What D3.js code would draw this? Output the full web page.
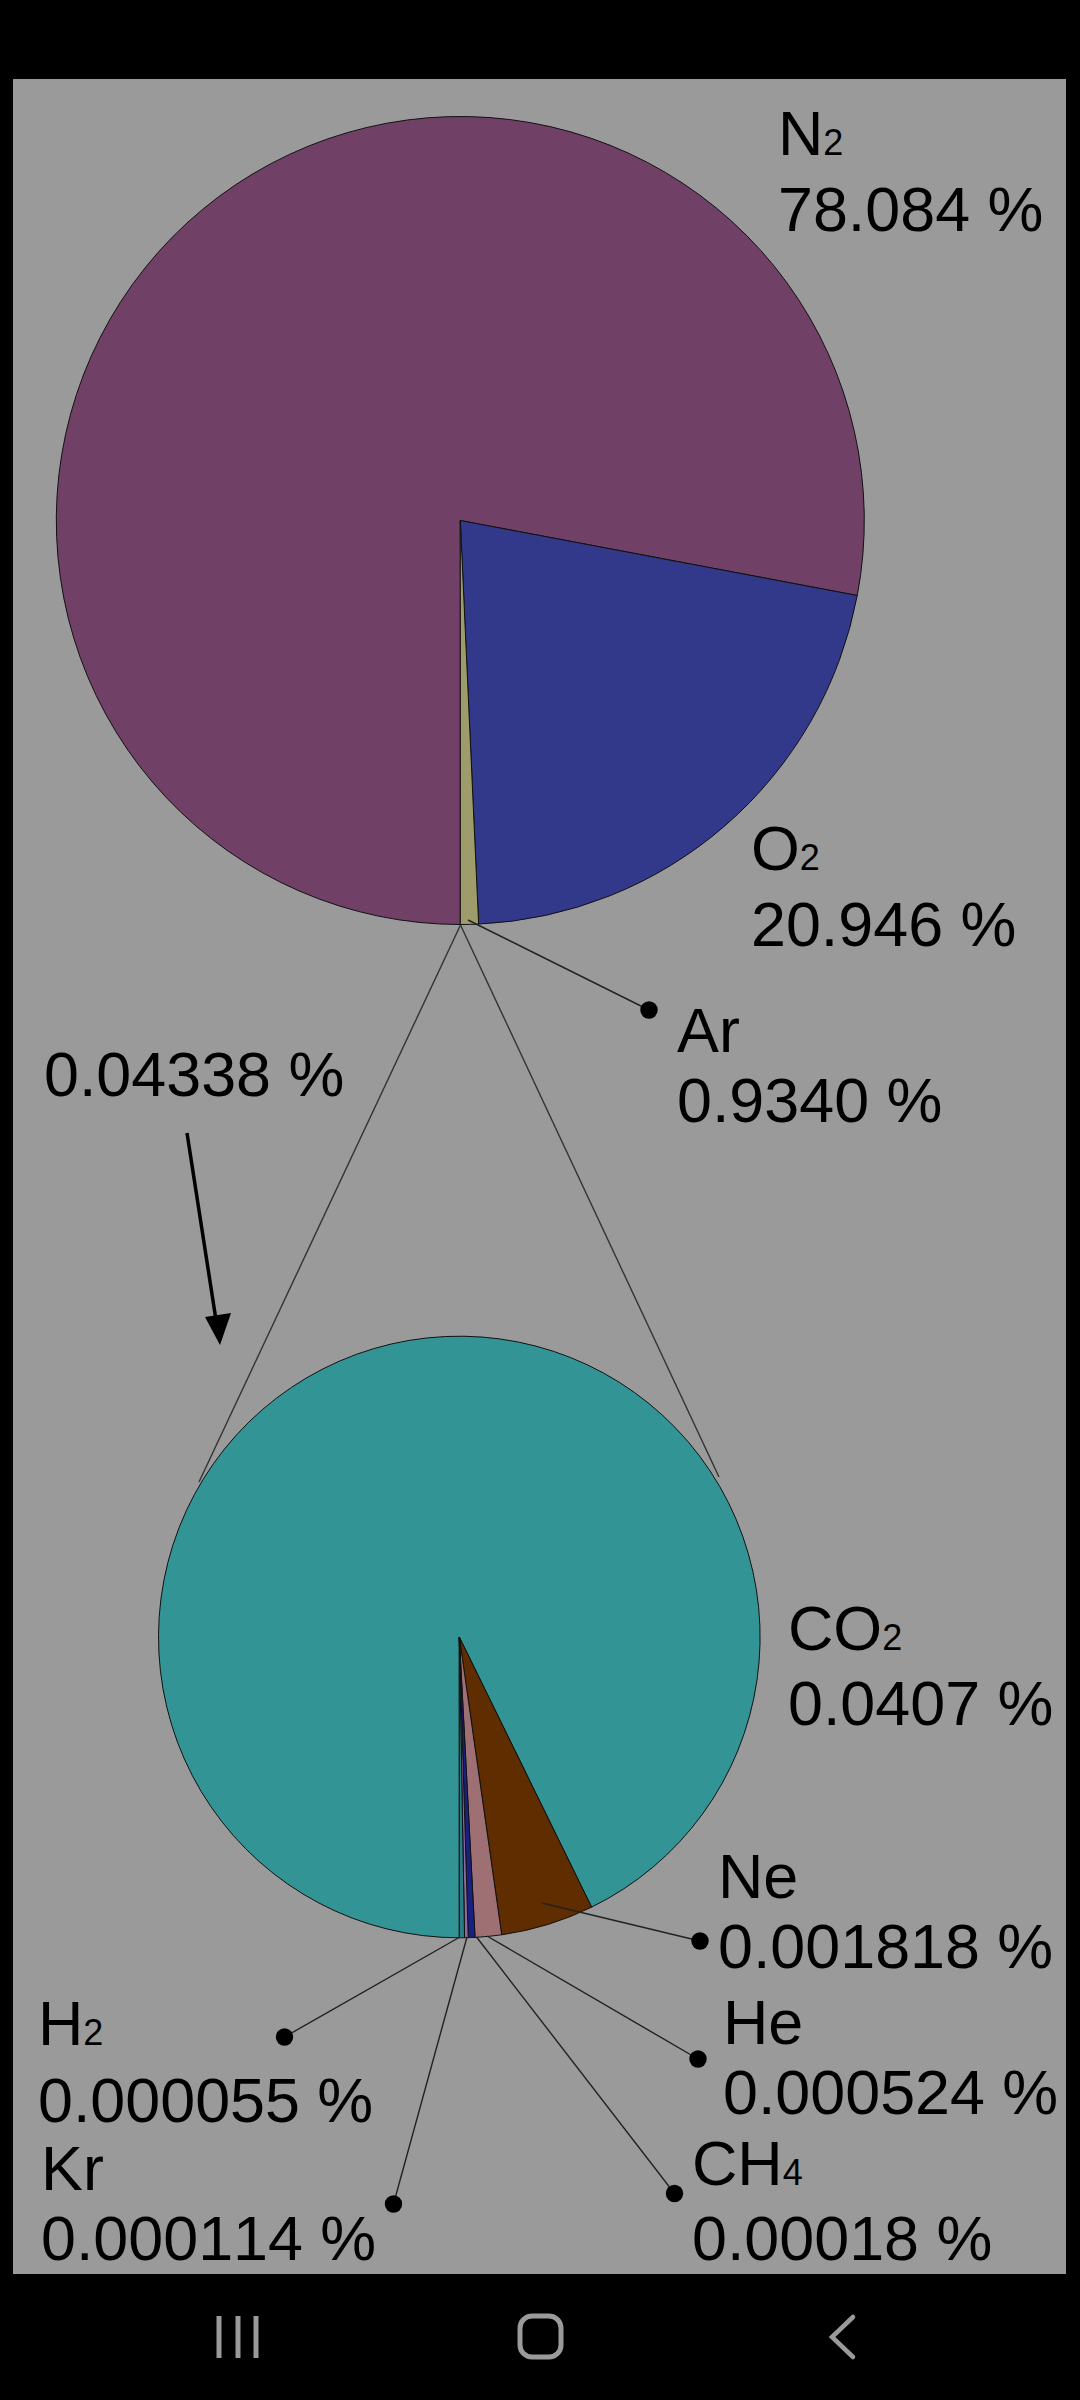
<!DOCTYPE html>
<html><head><meta charset="utf-8">
<script src="https://cdn.jsdelivr.net/npm/d3@7/dist/d3.min.js"></script>
<style>html,body{margin:0;padding:0;background:#000}svg{display:block}text{font-family:"Liberation Sans",Arial,sans-serif;fill:#000;font-kerning:none}</style>
</head><body><svg id="c" width="1080" height="2400"></svg>
<script>
// Main pie: drawn angular shares (degrees), clockwise from the bottom
const mainNames = ["N2","O2","Ar"];
const mainShares = [280.7,76.7,2.6];
const mainColors = ["#704066","#33398a","#9e9c6a"];
// Zoom pie: drawn angular shares (degrees), clockwise from the bottom
const zoomNames = ["CO2","Ne","He","CH4","Kr","H2"];
const zoomShares = [333.9,18,5.1,1.3,0.7,1.0];
const zoomColors = ["#339496","#602d00","#9e7073","#1a2080","#8a6aa0","#2b7a88"];
// Label text
const labelNames = ["N","O","Ar","CO","Ne","He","H","Kr","CH"];
const labelSubs = ["2","2","","2","","","2","","4"];
const labelValues = ["78.084 %","20.946 %","0.9340 %","0.0407 %","0.001818 %","0.000524 %","0.000055 %","0.000114 %","0.00018 %"];
const traceLabel = "0.04338 %";

// ---- layout ----
const labelPos = [[778,155,231],[751,870,946],[677,1052,1122],[788,1650,1725],[718,1898,1968],[723,2044,2114],[38,2045,2122],[41,2190,2260],[692,2185,2260]];
const leaders = [[468,920,649,1010],[542,1903,700,1941],[487,1936,698,2059],[460,1937,284.5,2037],[467,1937,393.5,2204],[476.5,1937,674.5,2193.5]];
const conn = [[460.5,925,199,1482],[460.5,925,719,1477]];
const mainC = {x:460.3,y:520.5,r:404}, zoomC = {x:459.3,y:1637,r:300.8};
const fs = 62.8, subFs = 36;

const svg = d3.select("#c");
svg.append("rect").attr("x",13).attr("y",79).attr("width",1053).attr("height",2195).attr("fill","#9a9a9a");

function drawPie(vals, cols, c){
  const pie = d3.pie().sort(null).value(d=>d).startAngle(Math.PI).endAngle(3*Math.PI);
  const arc = d3.arc().innerRadius(0).outerRadius(c.r);
  svg.append("g").attr("transform",`translate(${c.x},${c.y})`)
    .selectAll("path").data(pie(vals)).join("path")
    .attr("d",arc).attr("fill",(d,i)=>cols[i]).attr("stroke","#111").attr("stroke-width",1);
}
svg.selectAll(".conn").data(conn).join("line").attr("class","conn")
  .attr("x1",d=>d[0]).attr("y1",d=>d[1]).attr("x2",d=>d[2]).attr("y2",d=>d[3])
  .attr("stroke","#333").attr("stroke-width",1.4);

drawPie(mainShares, mainColors, mainC);
drawPie(zoomShares, zoomColors, zoomC);

svg.selectAll(".lead").data(leaders).join("line").attr("class","lead")
  .attr("x1",d=>d[0]).attr("y1",d=>d[1]).attr("x2",d=>d[2]).attr("y2",d=>d[3])
  .attr("stroke","#222").attr("stroke-width",1.4);
svg.selectAll(".dot").data(leaders).join("circle").attr("class","dot")
  .attr("cx",d=>d[2]).attr("cy",d=>d[3]).attr("r",8.7).attr("fill","#000");

// labels
labelNames.forEach((n,i)=>{
  const [x,y1,y2]=labelPos[i];
  const t=svg.append("text").attr("x",x).attr("y",y1).attr("font-size",fs).text(n);
  if(labelSubs[i]) t.append("tspan").attr("font-size",subFs).text(labelSubs[i]);
  svg.append("text").attr("x",x).attr("y",y2).attr("font-size",fs).text(labelValues[i]);
});
svg.append("text").attr("x",44).attr("y",1096).attr("font-size",fs).text(traceLabel);

// arrow
svg.append("line").attr("x1",187).attr("y1",1133).attr("x2",216).attr("y2",1320).attr("stroke","#000").attr("stroke-width",3.5);
svg.append("path").attr("d",d3.line()([[220,1345],[205,1317],[231,1313]])+"Z").attr("fill","#000");

// navigation bar
const navBars=[219,238,256];
svg.selectAll(".bar").data(navBars).join("line").attr("class","bar")
  .attr("x1",d=>d).attr("x2",d=>d).attr("y1",2316).attr("y2",2358)
  .attr("stroke","#9a9a9a").attr("stroke-width",5);
svg.append("rect").attr("x",520).attr("y",2316).attr("width",41).attr("height",41).attr("rx",12)
  .attr("fill","none").attr("stroke","#9a9a9a").attr("stroke-width",5);
svg.append("path").attr("d",d3.line()([[853,2317],[832,2337],[853,2357]])).attr("fill","none")
  .attr("stroke","#9a9a9a").attr("stroke-width",4.5).attr("stroke-linecap","round");
</script>
</body></html>
